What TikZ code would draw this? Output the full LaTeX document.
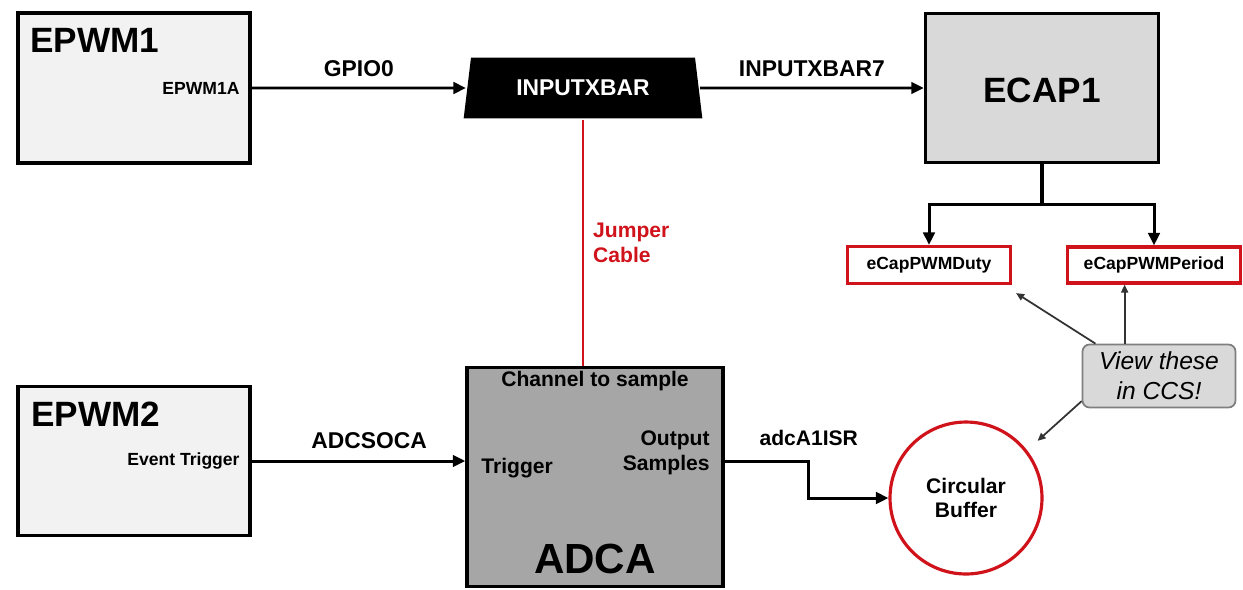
\documentclass[tikz,border=0pt]{standalone}
\usepackage{fontspec}
\setmainfont{Liberation Sans}
\usetikzlibrary{arrows.meta, positioning, shapes.geometric, calc}
\definecolor{cred}{HTML}{D0121B}
\definecolor{clight}{HTML}{F2F2F2}
\definecolor{cmid}{HTML}{D9D9D9}
\definecolor{cdark}{HTML}{A6A6A6}
\definecolor{cgrey}{HTML}{7F7F7F}
\tikzset{
  every picture/.style={line width=1.6pt},
  block/.style={draw=black, fill=#1, line width=2pt, inner sep=0pt},
  block/.default=clight,
  arrow/.style={-{Triangle[length=2.5mm, width=2.3mm]}, draw=black, line width=1.7pt},
  lbl/.style={font=\bfseries\fontsize{13}{15}\selectfont, inner sep=1pt},
  small/.style={font=\bfseries\fontsize{10}{12}\selectfont, inner sep=1pt},
  mid/.style={font=\bfseries\fontsize{12}{14}\selectfont, align=center, inner sep=1pt},
  big/.style={font=\bfseries\fontsize{20}{24}\selectfont, inner sep=1pt},
  var/.style={draw=cred, line width=1.8pt, fill=white, font=\bfseries\fontsize{10}{12}\selectfont, inner sep=0pt},
  view/.style={-{Triangle[length=1.6mm, width=1.4mm]}, draw=black!80, line width=1pt},
}

\begin{document}
\begin{tikzpicture}[x=0.02cm, y=-0.02cm]
  \useasboundingbox (0,0) rectangle (1243,589);
  \node[block, minimum width=4.64cm, minimum height=3cm] (epwm1) at (134,88) {};
  \node[block, minimum width=4.64cm, minimum height=2.98cm] (epwm2) at (134,461) {};
  \node[block=cmid, minimum width=4.66cm, minimum height=2.98cm] (ecap) at (1042,88) {};
  \node[block=cdark, minimum width=5.12cm, minimum height=4.38cm] (adca) at (595,477) {};
  \node[trapezium, trapezium left angle=77, trapezium right angle=77, trapezium stretches=true,
    minimum width=4.8cm, minimum height=1.22cm, fill=black, text=white, lbl] (xbar) at (583,88) {INPUTXBAR};
  \node[var, minimum width=3.26cm, minimum height=0.74cm] (duty) at (929,265) {eCapPWMDuty};
  \node[var, minimum width=3.46cm, minimum height=0.72cm] (period) at (1154,265) {eCapPWMPeriod};
  \node[circle, draw=cred, line width=1.8pt, minimum size=3.04cm, mid] (buf) at (966,498) {Circular\\Buffer};
  \node[draw=cgrey, fill=cmid, rounded corners=4pt, line width=1pt, minimum width=3.06cm, minimum height=1.26cm,
    align=center, font=\itshape\fontsize{14}{17}\selectfont] (note) at (1159,376) {View these\\in CCS!};

  \node[big, anchor=west] (t1) at ($(epwm1.north west)+(11,29)$) {EPWM1};
  \node[big, anchor=west] (t2) at ($(epwm2.north west)+(12,29)$) {EPWM2};
  \node[small, anchor=east] (o1) at ($(epwm1.east)+(-9,0)$) {EPWM1A};
  \node[small, anchor=east] (o2) at ($(epwm2.east)+(-9,0)$) {Event Trigger};
  \node[big] (t3) at ($(ecap)+(0,2)$) {ECAP1};
  \node[big, font=\bfseries\fontsize{24}{28}\selectfont] (t4) at ($(adca.south)+(0,-29)$) {ADCA};
  \node[mid] (chan) at ($(adca.north)+(0,15)$) {Channel to sample};
  \node[mid, anchor=west] (trig) at ($(adca.west)+(13,-9)$) {Trigger};
  \node[mid, anchor=east, align=right] (outs) at ($(adca.east)+(-12,-24)$) {Output\\Samples};

  \draw[arrow] (epwm1.east) -- node[lbl, above=4.5pt] (gpio) {GPIO0} (xbar.west);
  \draw[arrow] (xbar.east) -- node[lbl, above=4.5pt] (x7) {INPUTXBAR7} (ecap.west);
  \draw[cred, line width=1.6pt] (xbar.south) -- node[mid, text=cred, right=4pt, align=left, pos=0.5] (jc) {Jumper\\Cable} (xbar.south |- adca.north);
  \draw[line width=2pt] (ecap.south) -- ++(0,40) coordinate (split);
  \draw[arrow] (split) -| (duty.north);
  \draw[arrow] (split) -| (period.north);
  \draw[arrow] (epwm2.east) -- node[lbl, above=5pt, pos=0.55] (soc) {ADCSOCA} (epwm2.east -| adca.west);
  \draw[arrow] (epwm2.east -| adca.east) -- ++(84,0) node[mid, above=7pt] (isr) {adcA1ISR} |- (buf.west);

  \coordinate (n1) at ($(note.north west)+(43,0)$);
  \draw[view] (note.153) -- ($(duty.south east)+(4,8)$);
  \draw[view] (n1) -- (n1 |- period.south);
  \draw[view, shorten >=8pt] (note.198) -- (buf.38);
\end{tikzpicture}
\end{document}
